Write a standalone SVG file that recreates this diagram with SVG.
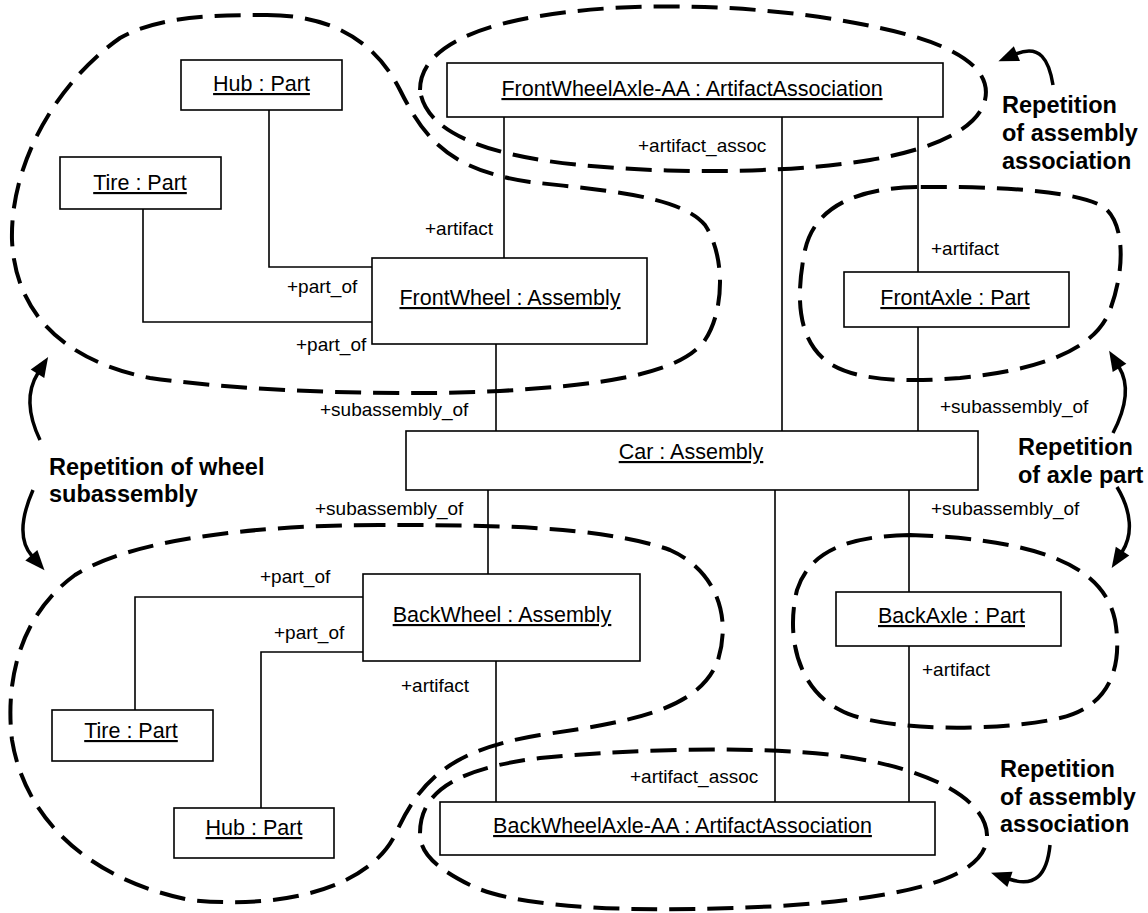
<svg xmlns="http://www.w3.org/2000/svg" width="1148" height="913" viewBox="0 0 1148 913">
<style>
.box{fill:#fff;stroke:#000;stroke-width:1.6}
.nt{font-family:"Liberation Sans",Arial,sans-serif;font-size:21.5px;text-anchor:middle;text-decoration:underline;fill:#000}
.rl{font-family:"Liberation Sans",Arial,sans-serif;font-size:19px;fill:#000}
.bt{font-family:"Liberation Sans",Arial,sans-serif;font-size:23.5px;font-weight:bold;fill:#000}
.ln{fill:none;stroke:#000;stroke-width:1.6}
.loop{fill:none;stroke:#000;stroke-width:4;stroke-dasharray:26 12}
.arr{fill:none;stroke:#000;stroke-width:3.5;marker-end:url(#head)}
</style>
<defs>
<marker id="head" markerUnits="userSpaceOnUse" markerWidth="22" markerHeight="18" viewBox="0 -9 22 18" refX="1" refY="0" orient="auto" overflow="visible">
<path d="M0,-8 L20,0 L0,8 Z" fill="#000"/>
</marker>
</defs>
<rect width="1148" height="913" fill="#fff"/>
<g id="connectors">
<polyline class="ln" points="269,110 269,267 372,267"/>
<polyline class="ln" points="143,209 143,322 372,322"/>
<line class="ln" x1="504" y1="117" x2="504" y2="258"/>
<line class="ln" x1="782" y1="117" x2="782" y2="431"/>
<line class="ln" x1="918" y1="117" x2="918" y2="272"/>
<line class="ln" x1="918" y1="327" x2="918" y2="431"/>
<line class="ln" x1="496" y1="344" x2="496" y2="431"/>
<line class="ln" x1="488" y1="490" x2="488" y2="574"/>
<line class="ln" x1="775" y1="490" x2="775" y2="802"/>
<line class="ln" x1="909" y1="490" x2="909" y2="592"/>
<line class="ln" x1="909" y1="646" x2="909" y2="802"/>
<line class="ln" x1="496" y1="661" x2="496" y2="802"/>
<polyline class="ln" points="363,597 135,597 135,710"/>
<polyline class="ln" points="363,652 261,652 261,808"/>
<text class="rl" x="287" y="293">+part_of</text>
<text class="rl" x="296" y="351">+part_of</text>
<text class="rl" x="425" y="235">+artifact</text>
<text class="rl" x="638" y="152">+artifact_assoc</text>
<text class="rl" x="931" y="255">+artifact</text>
<text class="rl" x="320" y="416">+subassembly_of</text>
<text class="rl" x="940" y="413">+subassembly_of</text>
<text class="rl" x="315" y="515">+subassembly_of</text>
<text class="rl" x="931" y="515">+subassembly_of</text>
<text class="rl" x="260" y="583">+part_of</text>
<text class="rl" x="274" y="639">+part_of</text>
<text class="rl" x="401" y="692">+artifact</text>
<text class="rl" x="630" y="783">+artifact_assoc</text>
<text class="rl" x="922" y="676">+artifact</text>
</g>
<g id="hub-top"><rect class="box" x="181" y="60" width="161" height="50"/><text class="nt" x="261.5" y="91">Hub : Part</text></g>
<g id="tire-top"><rect class="box" x="60" y="157" width="161" height="52"/><text class="nt" x="140" y="190">Tire : Part</text></g>
<g id="frontwheel"><rect class="box" x="372" y="258" width="275" height="86"/><text class="nt" x="510" y="305">FrontWheel : Assembly</text></g>
<g id="frontwheelaxle-aa"><rect class="box" x="447" y="63" width="496" height="54"/><text class="nt" x="692" y="96">FrontWheelAxle-AA : ArtifactAssociation</text></g>
<g id="frontaxle"><rect class="box" x="844" y="272" width="225" height="55"/><text class="nt" x="955" y="305">FrontAxle : Part</text></g>
<g id="car"><rect class="box" x="406" y="431" width="572" height="59"/><text class="nt" x="691" y="459">Car : Assembly</text></g>
<g id="backwheel"><rect class="box" x="363" y="574" width="277" height="87"/><text class="nt" x="502" y="622">BackWheel : Assembly</text></g>
<g id="backaxle"><rect class="box" x="836" y="592" width="225" height="54"/><text class="nt" x="951.5" y="623">BackAxle : Part</text></g>
<g id="backwheelaxle-aa"><rect class="box" x="440" y="802" width="495" height="53"/><text class="nt" x="682.5" y="833">BackWheelAxle-AA : ArtifactAssociation</text></g>
<g id="tire-bottom"><rect class="box" x="52" y="710" width="161" height="51"/><text class="nt" x="131" y="738">Tire : Part</text></g>
<g id="hub-bottom"><rect class="box" x="174" y="808" width="160" height="50"/><text class="nt" x="254" y="835">Hub : Part</text></g>
<g id="loops">
<path class="loop" d="M267 15 C330 15 375 40 400 90 C425 140 450 170 530 182 C600 190 680 195 705 225 C725 255 725 310 705 340 C680 375 600 385 500 391 C400 396 250 392 150 378 C60 360 15 310 12 240 C10 160 60 80 120 38 C160 15 220 15 267 15 Z"/>
<path class="loop" d="M420 90 C420 40 500 15 613 8 C700 3 800 10 880 28 C960 45 992 70 985 100 C978 130 930 150 870 160 C800 172 680 175 580 165 C480 155 425 130 420 90 Z"/>
<path class="loop" d="M917 187 C860 188 815 205 805 250 C797 290 795 335 825 360 C850 380 900 383 960 378 C1040 370 1095 350 1110 310 C1125 270 1125 225 1105 208 C1080 190 990 186 917 187 Z"/>
<path class="loop" d="M380 525 C250 525 130 540 75 575 C20 615 5 680 12 740 C25 820 90 880 190 900 C290 910 370 885 395 835 C420 780 450 750 540 735 C630 722 700 710 718 660 C732 615 715 570 670 550 C600 525 480 525 380 525 Z"/>
<path class="loop" d="M910 535 C850 536 810 550 797 590 C785 640 800 690 840 710 C880 732 1000 732 1060 718 C1115 705 1122 660 1115 620 C1105 575 1060 540 910 535 Z"/>
<path class="loop" d="M420 833 C420 790 460 768 540 758 C620 750 720 747 800 752 C900 758 985 790 987 835 C988 880 900 898 780 906 C650 913 520 910 470 885 C430 865 420 850 420 833 Z"/>
</g>
<g id="annotations">
<path class="arr" d="M1053 85 C1049 60 1040 44 1016 54"/>
<path class="arr" d="M40 440 C28 415 26 392 38 373"/>
<path class="arr" d="M33 490 C22 515 18 540 32 556"/>
<path class="arr" d="M1113 433 C1126 408 1130 385 1119 367"/>
<path class="arr" d="M1117 487 C1132 512 1133 535 1122 552"/>
<path class="arr" d="M1050 845 C1047 875 1035 888 1009 879"/>
<text class="bt" x="1002" y="113">Repetition</text>
<text class="bt" x="1002" y="141">of assembly</text>
<text class="bt" x="1002" y="169">association</text>
<text class="bt" x="49" y="475">Repetition of wheel</text>
<text class="bt" x="49" y="502">subassembly</text>
<text class="bt" x="1018" y="455">Repetition</text>
<text class="bt" x="1018" y="483">of axle part</text>
<text class="bt" x="1000" y="777">Repetition</text>
<text class="bt" x="1000" y="805">of assembly</text>
<text class="bt" x="1000" y="832">association</text>
</g>
</svg>
